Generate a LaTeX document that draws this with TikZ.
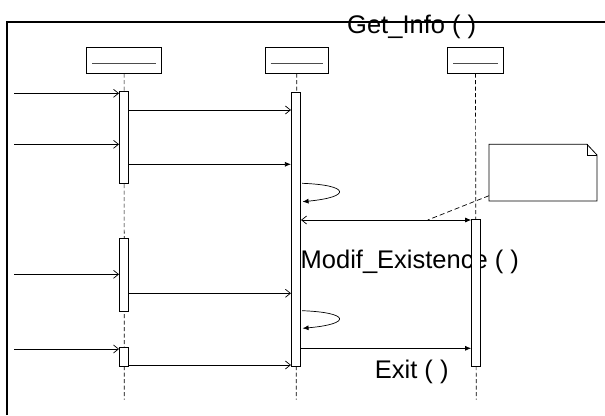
\documentclass[tikz,border=0pt]{standalone}
\usepackage{fontspec}
\setmainfont{Liberation Sans}
\usetikzlibrary{arrows.meta}
\tikzset{
  lbl/.style={inner sep=0pt,font=\fontsize{25.5}{30}\selectfont},
  objbox/.style={draw,line width=0.8pt,minimum height=25.6pt,inner sep=0pt,fill=white},
  inner/.style={draw=black!70,line width=0.8pt},
  life/.style={draw,line width=0.7pt,dash pattern=on 4pt off 2.5pt},
  actbar/.style={draw,line width=0.9pt,fill=white,inner sep=0pt,minimum width=9.2pt},
  msg/.style={draw,line width=0.7pt},
  openhead/.style={msg,-{Straight Barb[length=5pt,width=8pt]}},
  filledhead/.style={msg,-{Latex[length=6pt,width=5pt]}},
  notebox/.style={draw,line width=0.8pt,fill=white}
}
\begin{document}
\begin{tikzpicture}[x=1pt,y=-1pt]
\useasboundingbox (0,0) rectangle (605,415);
% frame
\draw[line width=1.4pt] (7,415) -- (7,22) -- (605,22);
\node[lbl,anchor=base] (getinfo) at (411.7,33.3) {Get\_Info ( )};
% object boxes
\node[objbox,minimum width=74.5pt] (box1) at (124.1,60.5) {};
\node[objbox,minimum width=63.4pt] (box2) at (296.7,60.5) {};
\node[objbox,minimum width=56pt] (box3) at (475.5,60.5) {};
\foreach \b in {box1,box2,box3}{
  \draw[inner] ([xshift=6pt,yshift=-2.8pt]\b.west) -- ([xshift=-6pt,yshift=-2.8pt]\b.east);
}
% lifelines
\coordinate (end1) at (124.2,399.5);
\coordinate (end2) at (296.2,399.5);
\coordinate (end3) at (476.2,399.5);
\draw[life] (box1.south) -- (end1);
\draw[life] (box2.south) -- (end2);
\draw[life] (box3.south) -- (end3);
% labels
\node[lbl,anchor=base west] (modif) at (300.5,268.3) {Modif\_Existence ( )};
\node[lbl,anchor=base west] (exit) at (374.7,378.3) {Exit ( )};
% activation bars
\node[actbar,minimum height=91.6pt] (bar1a) at (124.1,137.5) {};
\node[actbar,minimum height=73.4pt] (bar1b) at (124.1,275) {};
\node[actbar,minimum height=19pt] (bar1c) at (124.1,357.2) {};
\node[actbar,minimum height=274.3pt] (bar2) at (296,229.1) {};
\node[actbar,minimum height=147pt] (bar3) at (476.2,292.8) {};
% incoming messages
\coordinate (in1) at (14.3,93.3);
\coordinate (in2) at (14.3,144.3);
\coordinate (in3) at (14.3,274.3);
\coordinate (in4) at (14.3,349);
\draw[openhead] (in1) -- (in1 -| bar1a.west);
\draw[openhead] (in2) -- (in2 -| bar1a.west);
\draw[openhead] (in3) -- (in3 -| bar1b.west);
\draw[openhead] (in4) -- (in4 -| bar1c.west);
% bar1 -> bar2
\coordinate (m5) at (0,110);
\coordinate (m6) at (0,164.3);
\coordinate (m7) at (0,293.3);
\coordinate (m8) at (0,365);
\draw[openhead] (m5 -| bar1a.east) -- (m5 -| bar2.west);
\draw[filledhead] (m6 -| bar1a.east) -- (m6 -| bar2.west);
\draw[openhead] (m7 -| bar1b.east) -- (m7 -| bar2.west);
\draw[openhead] (m8 -| bar1c.east) -- (m8 -| bar2.west);
% self messages
\coordinate (s1a) at (0,183.3);
\coordinate (s1b) at (0,201.7);
\coordinate (s2a) at (0,310.7);
\coordinate (s2b) at (0,328.3);
\draw[filledhead] ([xshift=1pt]s1a -| bar2.east) .. controls (350,185) and (352,197) .. ([xshift=1.5pt]s1b -| bar2.east);
\draw[filledhead] ([xshift=1pt]s2a -| bar2.east) .. controls (350,312.4) and (352,324) .. ([xshift=1.5pt]s2b -| bar2.east);
% bar2 <-> bar3
\coordinate (m9) at (0,220);
\coordinate (m10) at (0,348.3);
\draw[msg,{Straight Barb[length=5pt,width=8pt]}-{Latex[length=6pt,width=5pt]}] (m9 -| bar2.east) -- (m9 -| bar3.west);
\draw[filledhead] (m10 -| bar2.east) -- (m10 -| bar3.west);
% note
\coordinate (na) at (489,144.3);
\coordinate (nb) at (587,144.3);
\coordinate (nc) at (597,155);
\coordinate (nd) at (597,201);
\coordinate (ne) at (489,201);
\draw[notebox] (na) -- (nb) -- (nc) -- (nd) -- (ne) -- cycle;
\draw[line width=0.8pt] (nb) -- (587,155) -- (nc);
\node[inner sep=0pt] (note) at (543,172.6) {};
\coordinate (nanchor) at (427.7,220);
\draw[line width=0.7pt,dash pattern=on 5pt off 3pt] (489,195.7) -- (nanchor);
\end{tikzpicture}
\end{document}
